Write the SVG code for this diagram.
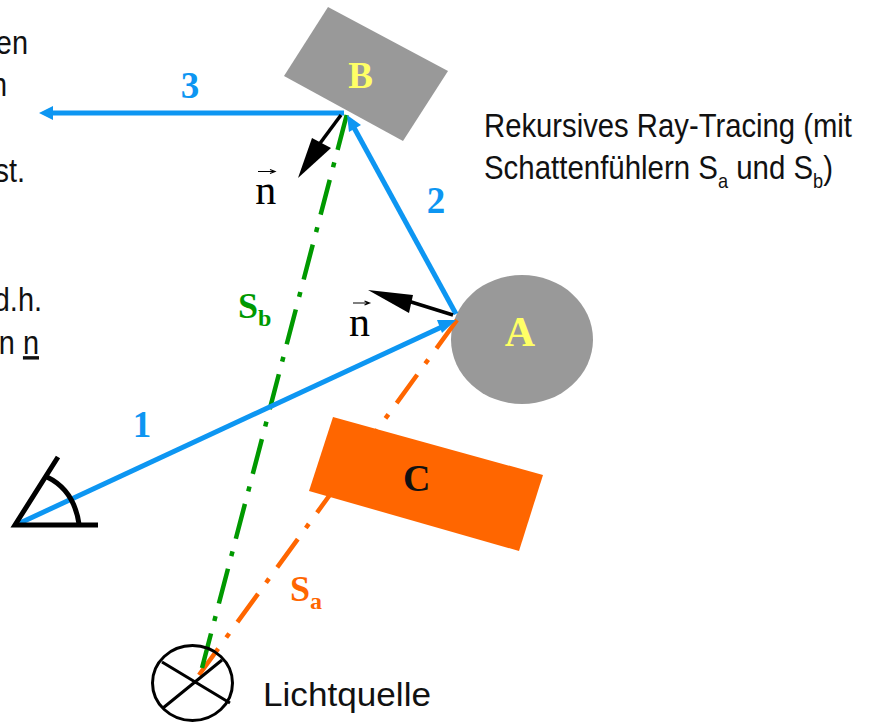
<svg xmlns="http://www.w3.org/2000/svg" width="872" height="725" viewBox="0 0 872 725">
<style>
.t{font-family:"Liberation Sans",Arial,sans-serif;font-size:34px;fill:#111}
.s{font-family:"Liberation Serif","Times New Roman",serif;font-weight:bold}
.ray{fill:none;stroke:#0d96f2;stroke-width:5}
.nrm{fill:none;stroke:#000;stroke-width:3.5}
.sh{fill:none;stroke-width:4.5}
</style>
<g id="left-text" class="t" text-anchor="end">
<text transform="translate(28,54) scale(.85,1)">en</text>
<text transform="translate(7,96) scale(.85,1)">n</text>
<text transform="translate(25,182) scale(.85,1)">st.</text>
<text transform="translate(42,311) scale(.85,1)">d.h.</text>
<text transform="translate(39,354) scale(.85,1)">n <tspan text-decoration="underline">n</tspan></text>
</g>
<g id="node-B"><polygon points="328,7 448,71 403,141 284,76" fill="#999"/><text class="s" x="360.5" y="88" font-size="37" fill="#ffff66" text-anchor="middle">B</text></g>
<g id="node-A"><ellipse cx="522" cy="339.5" rx="71" ry="64.5" fill="#999"/><text class="s" x="520" y="346" font-size="42" fill="#ffff66" text-anchor="middle">A</text></g>
<g id="connectors">
<path class="sh" stroke="#ff6600" stroke-dasharray="35 14 5 13.7" d="M457,320L199,675"/>
<path class="sh" stroke="#009900" stroke-dasharray="36 13 5 13" d="M346.7,115L202,668"/>
<path class="ray" d="M344,113H50"/>
<polygon points="39,113 53,106 53,120" fill="#0d96f2"/>
<path class="ray" d="M456,314L352,124"/>
<polygon points="347,115 361,125 349,132" fill="#0d96f2"/>
<path class="ray" d="M20,523L446,325"/>
<polygon points="456,320 442,333 437,320" fill="#0d96f2"/>
<path class="nrm" d="M341,115L318,146"/>
<polygon points="298,178 312,138 331,148" fill="#000"/>
<path class="nrm" d="M453,315L408,301"/>
<polygon points="368,290 413,295 409,313" fill="#000"/>
</g>
<g id="node-C"><polygon points="333,417 543,475 519,551 309,491" fill="#ff6600"/><text class="s" x="416.7" y="491" font-size="38" fill="#111" text-anchor="middle">C</text></g>
<g id="eye" fill="none" stroke="#000" stroke-width="5"><path d="M58,457L15,525H98"/><path d="M47,477Q74,490 79,524"/></g>
<g id="light" fill="none" stroke="#000" stroke-width="3"><ellipse cx="192.5" cy="683" rx="40" ry="37.5"/><path d="M162,662L230,703M163,708L222,660"/></g>
<g id="labels" class="s">
<text x="190" y="98" font-size="37" fill="#0d96f2" text-anchor="middle">3</text>
<text x="436" y="213" font-size="37" fill="#0d96f2" text-anchor="middle">2</text>
<text x="142" y="437" font-size="37" fill="#0d96f2" text-anchor="middle">1</text>
<text x="238" y="318" font-size="36" fill="#009900">S<tspan font-size="24" dy="8">b</tspan></text>
<text x="290" y="601" font-size="36" fill="#ff6600">S<tspan font-size="24" dy="8">a</tspan></text>
</g>
<g id="n-labels" font-family="'Liberation Serif',serif" fill="#000">
<text x="265.7" y="204" font-size="42" text-anchor="middle">n</text>
<text x="359.5" y="336" font-size="42" text-anchor="middle">n</text>
<path d="M258,171.5H274M270,169.5L275,171.5L270,173.5M353,303H368.5M364.5,301L369.5,303L364.5,305" fill="none" stroke="#000" stroke-width="1.2"/>
</g>
<g id="caption" class="t">
<text x="484" y="137" textLength="368" lengthAdjust="spacingAndGlyphs">Rekursives Ray-Tracing (mit</text>
<text x="484" y="179" textLength="349" lengthAdjust="spacingAndGlyphs">Schattenfühlern S<tspan style="font-size:21px" dy="9">a</tspan><tspan dy="-9"> und S</tspan><tspan style="font-size:21px" dy="9">b</tspan><tspan dy="-9">)</tspan></text>
<text x="263" y="706" textLength="168" lengthAdjust="spacingAndGlyphs">Lichtquelle</text>
</g>
</svg>
